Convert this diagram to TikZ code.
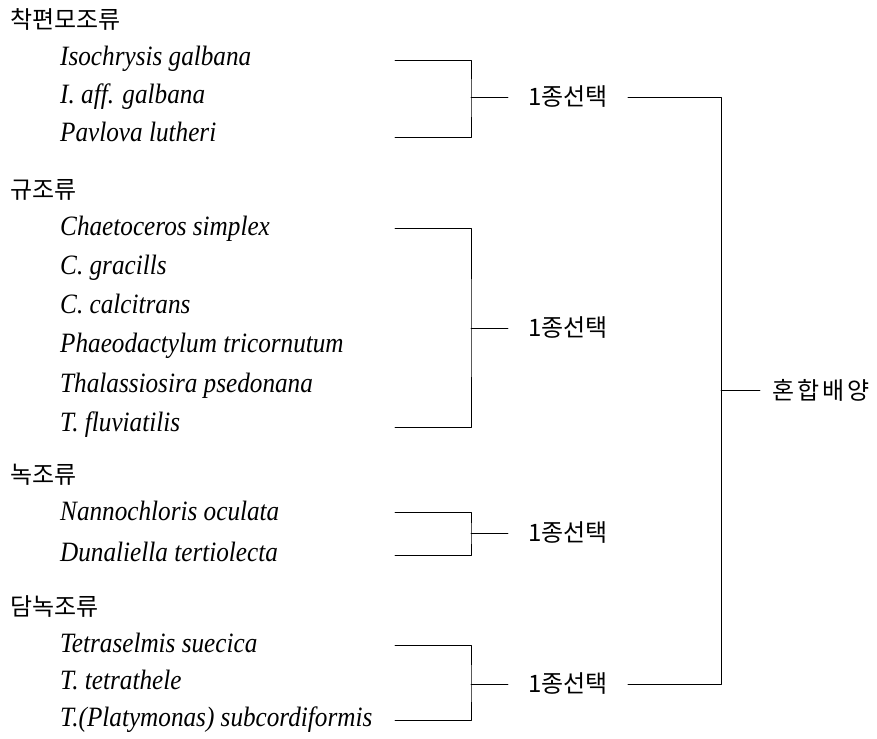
\documentclass[tikz,border=0pt]{standalone}
\usepackage{fontspec}
\setmainfont{Liberation Serif}
\newfontfamily\spfont[FakeStretch=0.9]{Liberation Serif}
\newfontfamily\kor{Noto Sans CJK KR}
\usetikzlibrary{positioning}
\tikzset{
  grp/.style={anchor=west,inner sep=0pt,font=\kor\fontsize{24}{24}\selectfont},
  sp/.style={anchor=base west,inner sep=0pt,font=\spfont\itshape\fontsize{28}{28}\selectfont},
  sel/.style={anchor=west,inner xsep=20pt,inner ysep=0pt,font=\kor\fontsize{24}{24}\selectfont},
  ln/.style={line width=0.9pt}
}
\begin{document}
\begin{tikzpicture}[x=1pt,y=-1pt,line cap=round,line join=round]
  \useasboundingbox (0,0) rectangle (877,738);
  \def\xs{60} \def\xl{395} \def\xb{471} \def\xr{721}
  % group headings
  \node[grp] (h1) at (10,19) {착편모조류};
  \node[grp] (h2) at (10,190) {규조류};
  \node[grp] (h3) at (10,475) {녹조류};
  \node[grp] (h4) at (10,607) {담녹조류};
  % species
  \node[sp] (s1a) at (\xs,66) {Isochrysis galbana};
  \node[sp] (s1b) at (\xs,104) {I. aff. galbana};
  \node[sp] (s1c) at (\xs,142) {Pavlova lutheri};
  \node[sp] (s2a) at (\xs,235) {Chaetoceros simplex};
  \node[sp] (s2b) at (\xs,274) {C. gracills};
  \node[sp] (s2c) at (\xs,313) {C. calcitrans};
  \node[sp] (s2d) at (\xs,352) {Phaeodactylum tricornutum};
  \node[sp] (s2e) at (\xs,392) {Thalassiosira psedonana};
  \node[sp] (s2f) at (\xs,431) {T. fluviatilis};
  \node[sp] (s3a) at (\xs,520) {Nannochloris oculata};
  \node[sp] (s3b) at (\xs,561) {Dunaliella tertiolecta};
  \node[sp] (s4a) at (\xs,652) {Tetraselmis suecica};
  \node[sp] (s4b) at (\xs,689) {T. tetrathele};
  \node[sp] (s4c) at (\xs,726) {T.(Platymonas) subcordiformis};
  % bracket ends
  \coordinate (a1) at (\xl,60);  \coordinate (b1) at (\xl,137); \coordinate (m1) at (\xb,97);
  \coordinate (a2) at (\xl,228); \coordinate (b2) at (\xl,427); \coordinate (m2) at (\xb,328);
  \coordinate (a3) at (\xl,512); \coordinate (b3) at (\xl,555); \coordinate (m3) at (\xb,533);
  \coordinate (a4) at (\xl,645); \coordinate (b4) at (\xl,720); \coordinate (m4) at (\xb,684);
  \coordinate (mid) at (\xr,390);
  \foreach \i in {1,...,4}{
    \draw[ln] (a\i) -| (m\i) |- (b\i);
    \node[sel,right=37pt of m\i] (c\i) {1종선택};
    \draw[ln] (m\i) -- (c\i.west);
  }
  % final bracket
  \node[grp,inner xsep=12pt,right=39pt of mid] (mix) {\addfontfeature{LetterSpace=12}혼합배양};
  \draw[ln] (c1.east) -| (mid) |- (c4.east);
  \draw[ln] (mid) -- (mix.west);
\end{tikzpicture}
\end{document}
